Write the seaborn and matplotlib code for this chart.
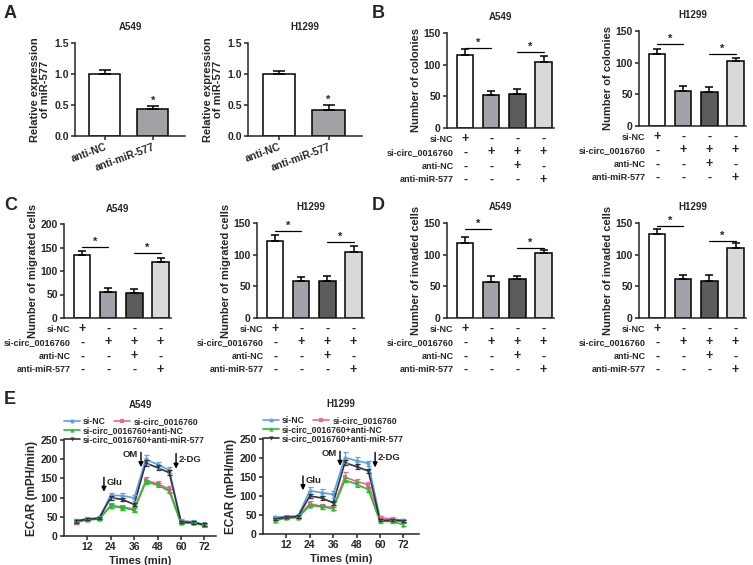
import numpy as np
import pandas as pd
import matplotlib
matplotlib.use("Agg")
import matplotlib.pyplot as plt
from matplotlib.lines import Line2D
import seaborn as sns

# ---- data ----
# panel A: relative expression of miR-577
a_groups = ["anti-NC", "anti-miR-577"]
a_a549 = [1.00, 0.43]
a_a549_err = [0.06, 0.05]
a_h1299 = [1.00, 0.42]
a_h1299_err = [0.05, 0.08]

# panels B-D: four treatment groups
groups = ["g1", "g2", "g3", "g4"]
row_names = ["si-NC", "si-circ_0016760", "anti-NC", "anti-miR-577"]
row_signs = [["+", "-", "-", "-"],
             ["-", "+", "+", "+"],
             ["-", "-", "+", "-"],
             ["-", "-", "-", "+"]]

colonies_a549 = [115, 52, 53, 104]
colonies_a549_err = [9, 7, 8, 10]
colonies_h1299 = [113, 55, 54, 102]
colonies_h1299_err = [8, 8, 7, 6]

migrated_a549 = [133, 56, 54, 119]
migrated_a549_err = [10, 7, 7, 9]
migrated_h1299 = [122, 59, 59, 104]
migrated_h1299_err = [9, 6, 8, 9]

invaded_a549 = [119, 57, 61, 102]
invaded_a549_err = [9, 9, 5, 6]
invaded_h1299 = [132, 62, 59, 111]
invaded_h1299_err = [8, 6, 9, 7]

# significance bar heights (pair 1-2, pair 3-4)
sig_colonies = ([126, 120], [129, 114])
sig_migrated = ([151, 138], [137, 120])
sig_invaded = ([140, 110], [145, 122])

# panel E: ECAR time course
times = [6, 12, 18, 24, 30, 36, 42, 48, 54, 60, 66, 72]
series = ["si-NC", "si-circ_0016760", "si-circ_0016760+anti-NC",
          "si-circ_0016760+anti-miR-577"]
ecar_a549 = {
    "si-NC": [40, 45, 47, 106, 105, 99, 200, 186, 172, 40, 37, 30],
    "si-circ_0016760": [35, 42, 45, 80, 75, 70, 145, 136, 122, 36, 35, 27],
    "si-circ_0016760+anti-NC": [40, 42, 44, 78, 73, 68, 141, 133, 117, 33, 34, 28],
    "si-circ_0016760+anti-miR-577": [38, 44, 46, 100, 95, 82, 190, 178, 165, 37, 35, 30],
}
ecar_a549_err = {
    "si-NC": [4, 4, 4, 6, 6, 7, 12, 8, 7, 5, 4, 3],
    "si-circ_0016760": [3, 4, 4, 6, 7, 6, 8, 7, 7, 4, 3, 3],
    "si-circ_0016760+anti-NC": [3, 3, 3, 5, 5, 5, 6, 6, 6, 3, 3, 3],
    "si-circ_0016760+anti-miR-577": [3, 3, 3, 5, 5, 5, 7, 6, 6, 3, 3, 3],
}
ecar_h1299 = {
    "si-NC": [44, 46, 48, 114, 109, 104, 201, 193, 186, 42, 40, 36],
    "si-circ_0016760": [42, 43, 45, 80, 73, 70, 150, 138, 130, 42, 38, 32],
    "si-circ_0016760+anti-NC": [35, 42, 43, 75, 72, 67, 142, 131, 117, 33, 33, 25],
    "si-circ_0016760+anti-miR-577": [40, 44, 46, 100, 95, 82, 188, 177, 166, 36, 36, 35],
}
ecar_h1299_err = {
    "si-NC": [4, 4, 4, 9, 9, 9, 14, 10, 7, 5, 4, 4],
    "si-circ_0016760": [4, 4, 4, 7, 7, 7, 12, 8, 8, 5, 4, 4],
    "si-circ_0016760+anti-NC": [3, 3, 3, 5, 5, 5, 6, 6, 6, 4, 3, 3],
    "si-circ_0016760+anti-miR-577": [3, 3, 3, 5, 5, 5, 7, 6, 6, 3, 3, 3],
}
line_colors = {"si-NC": "#5b9ff0", "si-circ_0016760": "#f2609a",
               "si-circ_0016760+anti-NC": "#22c02a",
               "si-circ_0016760+anti-miR-577": "#333333"}
line_markers = {"si-NC": "o", "si-circ_0016760": "s",
                "si-circ_0016760+anti-NC": "^",
                "si-circ_0016760+anti-miR-577": "v"}

bar4_colors = ["#ffffff", "#a2a2aa", "#5c5c5c", "#d9d9d9"]
bar2_colors = ["#ffffff", "#a2a2a6"]

# ---- style ----
sns.set_style("ticks")
plt.rcParams["font.family"] = ["Liberation Sans", "DejaVu Sans"]
plt.rcParams["font.weight"] = "bold"
plt.rcParams["axes.labelweight"] = "bold"
plt.rcParams["axes.linewidth"] = 1.1
plt.rcParams["xtick.major.width"] = 1.1
plt.rcParams["ytick.major.width"] = 1.1
plt.rcParams["xtick.major.size"] = 3
plt.rcParams["ytick.major.size"] = 3
plt.rcParams["xtick.labelsize"] = 7.5
plt.rcParams["ytick.labelsize"] = 7.5

W, H = 753, 565
fig = plt.figure(figsize=(W / 100, H / 100), dpi=100)


def add_ax(x0, y0, x1, y1):
    return fig.add_axes([x0 / W, 1 - y1 / H, (x1 - x0) / W, (y1 - y0) / H])


def style_ax(ax):
    sns.despine(ax=ax)
    for s in ["left", "bottom"]:
        ax.spines[s].set_linewidth(1.1)
    ax.tick_params(axis="both", pad=1.5)


def bar_panel(ax, vals, errs, ymax, ystep, ylabel, title, sig, hpx):
    df = pd.DataFrame({"group": groups, "value": vals})
    sns.barplot(data=df, x="group", y="value", hue="group", palette=bar4_colors,
                legend=False, edgecolor="black", linewidth=1.1, width=0.62,
                saturation=1, ax=ax)
    ax.errorbar(range(4), vals, yerr=[np.zeros(4), errs], fmt="none",
                ecolor="black", elinewidth=1.1, capsize=3.2, capthick=1.1)
    ax.set_xlim(-0.7, 3.4)
    ax.set_ylim(0, ymax)
    ax.set_yticks(np.arange(0, ymax + 1, ystep))
    ax.set_xticks([])
    ax.set_xlabel("")
    ax.set_ylabel(ylabel, fontsize=8, labelpad=2)
    ax.set_title(title, fontsize=7, fontweight="bold", pad=9)
    style_ax(ax)
    for (i, j), h in zip([(0, 1), (2, 3)], sig):
        ax.plot([i, j], [h, h], color="black", lw=0.9)
        ax.text((i + j) / 2, h, "*", ha="center", va="bottom", fontsize=8)
    offs = [11, 24.5, 38.5, 52]
    tr = ax.get_xaxis_transform()
    for r, name in enumerate(row_names):
        yf = -offs[r] / hpx
        ax.text(-0.45, yf, name, transform=tr, ha="right", va="center",
                fontsize=6.5, clip_on=False)
        for c in range(4):
            ax.text(c, yf, row_signs[r][c], transform=tr, ha="center",
                    va="center", fontsize=9, clip_on=False)


def expr_panel(ax, vals, errs, title):
    df = pd.DataFrame({"group": a_groups, "value": vals})
    sns.barplot(data=df, x="group", y="value", hue="group", palette=bar2_colors,
                legend=False, edgecolor="black", linewidth=1.1, width=0.65,
                saturation=1, ax=ax)
    ax.errorbar(range(2), vals, yerr=[np.zeros(2), errs], fmt="none",
                ecolor="black", elinewidth=1.1, capsize=4.5, capthick=1.1)
    ax.text(1, vals[1] + errs[1], "*", ha="center", va="bottom", fontsize=8)
    ax.set_xlim(-0.62, 1.67)
    ax.set_ylim(0, 1.5)
    ax.set_yticks([0, 0.5, 1.0, 1.5])
    ax.set_yticklabels(["0.0", "0.5", "1.0", "1.5"])
    ax.set_xlabel("")
    ax.set_ylabel("Relative expression\nof miR-577", fontsize=8, labelpad=3,
                  linespacing=1.05)
    ax.set_title(title, fontsize=7, fontweight="bold", pad=9)
    ax.tick_params(axis="x", labelrotation=20)
    for lab in ax.get_xticklabels():
        lab.set_ha("right")
        lab.set_rotation_mode("anchor")
    style_ax(ax)


def ecar_panel(ax, data, err, title, xmax):
    rows = []
    for s in series:
        for t, v in zip(times, data[s]):
            rows.append({"Time": t, "ECAR": v, "Group": s})
    df = pd.DataFrame(rows)
    sns.lineplot(data=df, x="Time", y="ECAR", hue="Group", style="Group",
                 palette=line_colors, markers=line_markers, dashes=False,
                 markersize=3, markeredgewidth=0, linewidth=1.2,
                 legend=False, ax=ax)
    for s in series:
        ax.errorbar(times, data[s], yerr=err[s], fmt="none",
                    ecolor=line_colors[s], elinewidth=0.9, capsize=1.8,
                    capthick=0.9)
    ax.set_xlim(0, xmax)
    ax.set_ylim(0, 250)
    ax.set_xticks([12, 24, 36, 48, 60, 72])
    ax.set_yticks(np.arange(0, 251, 50))
    ax.set_xlabel("Times (min)", fontsize=8, labelpad=3)
    ax.set_ylabel("ECAR (mPH/min)", fontsize=8.5, labelpad=2)
    ax.set_title(title, fontsize=7, fontweight="bold", pad=23)
    style_ax(ax)
    arrow = dict(arrowstyle="-|>", color="black", lw=1.0, mutation_scale=7)
    ax.annotate("", xy=(20.5, 108), xytext=(20.5, 160), arrowprops=arrow)
    ax.text(22, 140, "Glu", fontsize=6.8, ha="left", va="center")
    ax.annotate("", xy=(39.5, 172), xytext=(39.5, 225), arrowprops=arrow)
    ax.text(38, 212, "OM", fontsize=6.8, ha="right", va="center")
    ax.annotate("", xy=(57.5, 168), xytext=(57.5, 222), arrowprops=arrow)
    ax.text(59, 200, "2-DG", fontsize=6.8, ha="left", va="center")
    hd = [Line2D([], [], color=line_colors[s], marker=line_markers[s],
                 markersize=3, markeredgewidth=0, lw=1.2, label=s) for s in series]
    leg1 = ax.legend(handles=hd[:2], ncol=2, loc="center left",
                     bbox_to_anchor=(0.0, 1.19), frameon=False, fontsize=6.2,
                     handlelength=1.8, handletextpad=0.4, columnspacing=1.0,
                     borderpad=0, borderaxespad=0)
    ax.add_artist(leg1)
    ax.legend(handles=hd[2:], loc="upper left", bbox_to_anchor=(0.0, 1.145),
              frameon=False, fontsize=6.2, handlelength=1.8, handletextpad=0.4,
              labelspacing=0.02, borderpad=0, borderaxespad=0)


# ---- panel A ----
expr_panel(add_ax(75, 43, 185, 136), a_a549, a_a549_err, "A549")
expr_panel(add_ax(248, 43, 362, 136), a_h1299, a_h1299_err, "H1299")

# ---- panel B ----
bar_panel(add_ax(447, 33, 554, 128), colonies_a549, colonies_a549_err, 150, 50,
          "Number of colonies", "A549", sig_colonies[0], 95)
bar_panel(add_ax(639, 31, 746, 126), colonies_h1299, colonies_h1299_err, 150, 50,
          "Number of colonies", "H1299", sig_colonies[1], 95)

# ---- panel C ----
bar_panel(add_ax(64, 224, 171, 318), migrated_a549, migrated_a549_err, 200, 50,
          "Number of migrated cells", "A549", sig_migrated[0], 94)
bar_panel(add_ax(257, 223, 364, 318), migrated_h1299, migrated_h1299_err, 150, 50,
          "Number of migrated cells", "H1299", sig_migrated[1], 95)

# ---- panel D ----
bar_panel(add_ax(447, 223, 554, 318), invaded_a549, invaded_a549_err, 150, 50,
          "Number of invaded cells", "A549", sig_invaded[0], 95)
bar_panel(add_ax(639, 223, 746, 318), invaded_h1299, invaded_h1299_err, 150, 50,
          "Number of invaded cells", "H1299", sig_invaded[1], 95)

# ---- panel E ----
ecar_panel(add_ax(64, 440, 216, 536), ecar_a549, ecar_a549_err, "A549", 78)
ecar_panel(add_ax(263, 439, 419, 534), ecar_h1299, ecar_h1299_err, "H1299", 80)

# panel letters
for letter, x, y in [("A", 4, 13), ("B", 372, 13), ("C", 4, 205),
                     ("D", 372, 205), ("E", 4, 400)]:
    fig.text(x / W, 1 - y / H, letter, fontsize=13, fontweight="bold",
             ha="left", va="center")

fig.savefig("out.png", dpi=100)
